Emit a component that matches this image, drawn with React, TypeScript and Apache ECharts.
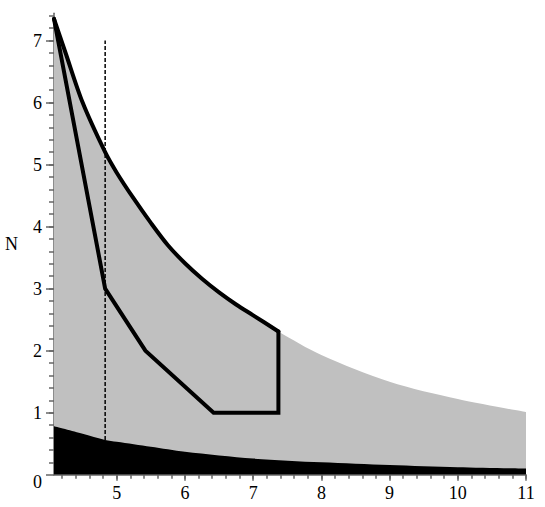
import React, { useEffect, useRef } from "react";
import * as echarts from "echarts";

// Upper boundary of the grey region (x, N)
const upperCurve: [number, number][] = [
  [4.08, 7.35], [4.25, 6.8], [4.5, 6.0], [4.83, 5.2], [5, 4.87], [5.25, 4.45],
  [5.5, 4.06], [5.75, 3.7], [6, 3.41], [6.25, 3.16], [6.5, 2.94], [6.75, 2.745],
  [7, 2.57], [7.37, 2.31], [8, 1.93], [9, 1.5], [10, 1.22], [11, 1.01],
];
// Upper boundary of the black region
const lowerCurve: [number, number][] = [
  [4.08, 0.78], [4.5, 0.66], [4.83, 0.56], [5, 0.53], [5.5, 0.45], [6, 0.37],
  [7, 0.26], [8, 0.2], [9, 0.155], [10, 0.12], [11, 0.1],
];
// Outlined region: curved edge then the straight edges
const outlineCurve: [number, number][] = [
  [4.08, 7.35], [4.25, 6.8], [4.5, 6.0], [4.83, 5.2], [5, 4.87], [5.25, 4.45],
  [5.5, 4.06], [5.75, 3.7], [6, 3.41], [6.25, 3.16], [6.5, 2.94], [6.75, 2.745],
  [7, 2.57], [7.37, 2.31],
];
const outlineEdges: [number, number][] = [
  [7.37, 2.31], [7.37, 1.0], [6.42, 1.0], [5.42, 2.0], [4.83, 3.0], [4.08, 7.35],
];
const dashedLine: [number, number][] = [[4.83, 0.56], [4.83, 7.0]];

const xMajor = [5, 6, 7, 8, 9, 10, 11];
const yMajor = [0, 1, 2, 3, 4, 5, 6, 7];
const X_MIN = 4.08, X_MAX = 11, Y_MIN = 0, Y_MAX = 7.44;

const xMinor: number[] = [];
for (let i = 21; i <= 55; i++) xMinor.push(+(i * 0.2).toFixed(1));
const yMinor: number[] = [];
for (let i = 1; i <= 37; i++) yMinor.push(+(i * 0.2).toFixed(1));

const FONT = "'Liberation Serif', 'DejaVu Serif', serif";
const AX = "#666";

export default function App() {
  const ref = useRef<HTMLDivElement>(null);
  useEffect(() => {
    document.body.style.margin = "0";
    const chart = echarts.init(ref.current!, null, { renderer: "svg" });
    const labelStyle = { color: "#000", fontFamily: FONT, fontSize: 18 };
    chart.setOption({
      animation: false,
      backgroundColor: "#fff",
      grid: { left: 54, right: 19, top: 13.3, bottom: 32.3, containLabel: false, outerBoundsMode: "none" },
      xAxis: [
        {
          type: "value", min: X_MIN, max: X_MAX,
          axisLine: { show: true, onZero: false, lineStyle: { color: AX, width: 1.5 } },
          axisTick: { show: true, customValues: xMajor, length: 6, lineStyle: { color: AX, width: 1.5 } },
          axisLabel: { customValues: xMajor, margin: 9, ...labelStyle },
          splitLine: { show: false },
        },
        {
          type: "value", min: X_MIN, max: X_MAX, position: "bottom",
          axisLine: { show: false },
          axisTick: { show: true, customValues: xMinor, length: 4, lineStyle: { color: AX, width: 1.5 } },
          axisLabel: { show: false },
          splitLine: { show: false },
        },
      ],
      yAxis: [
        {
          type: "value", min: Y_MIN, max: Y_MAX,
          name: "N", nameLocation: "middle", nameRotate: 0, nameGap: 36,
          nameTextStyle: { ...labelStyle, align: "right" },
          axisLine: { show: true, onZero: false, lineStyle: { color: AX, width: 1.5 } },
          axisTick: { show: true, customValues: yMajor, length: 8, lineStyle: { color: AX, width: 1.5 } },
          axisLabel: {
            customValues: yMajor, margin: 12, ...labelStyle,
            formatter: (v: number) => (v === 0 ? "{z|0}" : "{n|" + v + "}"),
            rich: {
              z: { ...labelStyle, padding: [15, 0, 0, 0] },
              n: { ...labelStyle },
            },
          },
          splitLine: { show: false },
        },
        {
          type: "value", min: Y_MIN, max: Y_MAX, position: "left",
          axisLine: { show: false },
          axisTick: { show: true, customValues: yMinor, length: 5, lineStyle: { color: AX, width: 1.5 } },
          axisLabel: { show: false },
          splitLine: { show: false },
        },
      ],
      series: [
        {
          type: "line", data: upperCurve, smooth: 0.3, symbol: "none",
          lineStyle: { width: 0 }, areaStyle: { color: "#c0c0c0", opacity: 1 }, z: 1,
        },
        {
          type: "line", data: lowerCurve, smooth: 0.3, symbol: "none",
          lineStyle: { width: 0 }, areaStyle: { color: "#000", opacity: 1 }, z: 2,
        },
        {
          type: "line", data: dashedLine, symbol: "none",
          lineStyle: { color: "#000", width: 1.5, type: [4, 2] }, z: 3,
        },
        {
          type: "line", data: outlineCurve, smooth: 0.3, symbol: "none",
          lineStyle: { color: "#000", width: 4, join: "round", cap: "round" }, z: 4,
        },
        {
          type: "line", data: outlineEdges, symbol: "none",
          lineStyle: { color: "#000", width: 4, join: "miter", cap: "round" }, z: 4,
        },
      ],
    });
    return () => chart.dispose();
  }, []);
  return <div ref={ref} style={{ width: 545, height: 507 }} />;
}
